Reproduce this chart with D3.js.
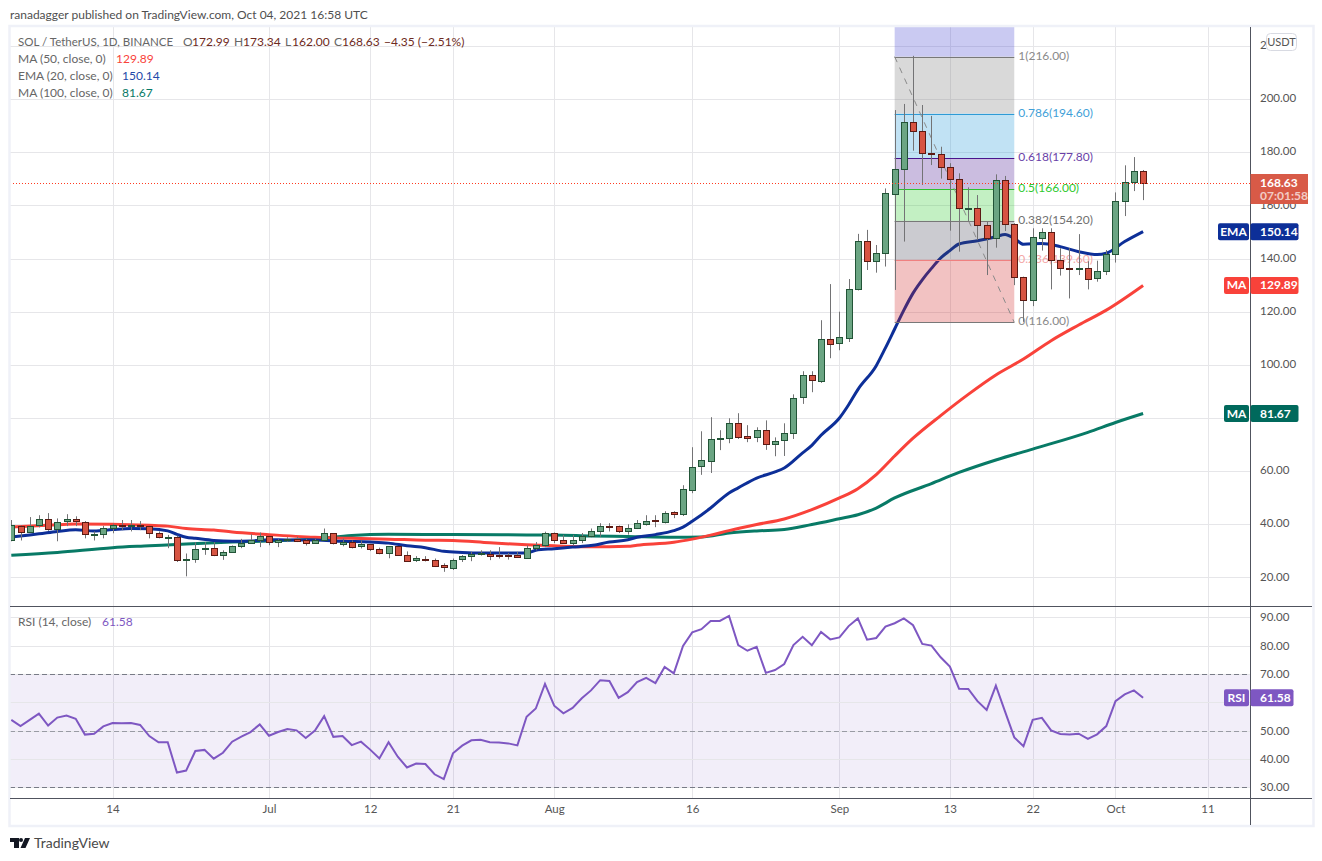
<!DOCTYPE html>
<html>
<head>
<meta charset="utf-8">
<script src="https://d3js.org/d3.v7.min.js"></script>
<style>
  html, body { margin: 0; padding: 0; background: #fff; }
  svg { display: block; }
  text { font-family: Lato, "Noto Sans", sans-serif; font-size: 12px; }
</style>
</head>
<body>
<script>
"use strict";

// Candles, one per day from Jun 3 to Oct 4 2021
var opens = [34.1,39.5,37.4,39.5,41.8,38.2,41,41.8,40.7,36,36.3,38.5,39.7,39.3,39.7,39.3,36.7,35.1,35.2,26.7,27,30.8,31.2,28.6,29.7,31.9,33,34.1,35.5,33.3,34.1,34.6,34.1,32.9,34.1,36.7,32.9,33.5,31.8,32.4,30.8,29.2,31.7,28.6,26.3,26.9,26.7,24.5,23.7,26.7,27.8,28.6,28.8,28.3,28.3,28.3,27.6,31.1,32,36.7,34.1,32.9,34,35.6,37.3,39.4,39.3,37.3,38.4,40.1,41.5,40.9,44.5,43.9,52.9,61.6,64,72.1,72.6,78.3,73.4,72.5,75.3,70.2,71.7,74.4,87.6,96,94,109.9,107.9,110.1,128.4,146.5,139,142,164.2,173.6,191.3,187.9,179.6,179.2,174.4,169.8,158.7,158.9,152.5,147.6,169.5,152.9,132.9,124.3,147.9,149.9,139.3,136.3,135.9,136.3,132.6,135.4,141.6,161.8,169,172.99];
var highs = [41.6,39.6,42.7,43.4,44.2,42.2,43.8,43,41.2,37.3,39.4,40.2,41.6,41.6,41.2,39.4,37.3,36,35.7,29,33.3,33.3,33.3,30.2,32,34.5,36.3,36.9,35.7,34.4,35.1,35.3,34.5,34.5,38.4,36.7,34.7,33.9,33.9,32.6,31.2,31.7,31.7,29.8,28,28,27.1,25.3,27.1,28.4,29.6,30.2,30.2,31.4,29.2,29.6,32.1,33.3,37.2,36.9,36,36,36.7,38.4,40.4,40.4,39.5,40,41.6,43.4,43.4,44.9,44.9,54.7,69,75,80.3,75.4,79.9,81.8,77.3,76.5,79.1,72.7,78,88.9,97.6,97.6,116.8,130.4,120,132.3,149.3,150.8,145.1,166.4,195.9,198.2,216.3,197.8,193.7,182.1,175.9,172.1,166.8,163.9,153.9,171.7,171.1,153.3,133.2,151.4,151.4,151.4,143.9,143.9,149.2,139,139.2,143.2,164.9,175.1,178.2,173.34];
var lows = [33.6,33.9,36.9,38.8,37.5,33.6,39.3,39.3,34.7,33.9,34.7,36.6,37.8,37.3,37.8,34.7,34.7,31,25.8,20.4,25.5,28.5,28,26.6,29.2,31,32.6,31.4,32.1,31.4,33.3,33.3,32,32.6,33.9,32.4,31.7,30.9,30.9,29.9,28.7,27.2,28.1,26.3,25.8,26,23.9,22.1,22.8,25.8,26.1,28.2,26.5,27.1,26.7,27.4,27.1,30.2,31.4,32.9,32.6,32,32.9,35.1,35.3,37.3,36.7,36.1,38.2,39.5,38.9,40.3,42.3,43.1,51.7,58.6,59.3,67.9,70.5,72.1,70.9,70.9,68,65.6,65.7,72.1,85.3,89.7,93.2,102.5,105.5,108.6,128,135.7,134.7,137,128.2,146.4,180.6,167.7,175.2,170.1,150.5,142.6,153.9,147,133.8,144.1,150.4,130,116.2,122.1,143,128.4,133.6,125,133.8,128.4,131.3,133.8,138.5,156,165.4,162];
var closes = [39.6,37.4,39.5,41.8,38.2,41,41.8,41,36,36.3,38.5,39.6,39.3,39.7,39.3,36.7,35.2,35.3,26.7,27,30.8,31.2,28.6,29.7,31.9,33,34.1,35.5,33.3,34.1,34.6,34,32.9,34.1,36.7,32.9,33.5,31.8,32.4,30.7,29.2,31.7,28.5,26.3,27.2,26.5,24.4,23.7,26.7,27.9,28.7,29,28.1,28,28.1,27.6,31.2,32.3,36.7,34,32.9,34.1,35.6,37.4,39.3,39.1,37.3,38.5,40.4,41.4,41,44.4,43.9,53.4,61.7,64,72.2,72.6,78.3,73.2,72.5,75.3,70.2,71.5,74.5,87.7,96,94,109.9,107.9,110.3,128.4,146.5,139,142,164.6,173.6,191.3,187.9,179.6,179.2,174.4,169.8,158.8,159,152.5,147.5,169.5,152.9,132.9,124.3,148,150.1,139.3,136.3,135.9,136.3,132.2,135.4,141.7,161.5,169,173,168.63];

// Moving averages at the listed day numbers
var emaDays = [0,2,3,5,7,9,11,13,15,17,18,19,20,22,24,26,28,30,33,36,39,41,43,45,47,49,51,53,56,57,59,61,63,65,67,68,70,72,73,74,76,78,79,81,83,84,86,87,88,90,91,92,94,95,96,97,98,99,100,101,102,103,105,107,108,109,110,112,114,116,118,119,121,123];
var emaVals = [35.2,36,36.4,37.3,37.9,37.5,38,38.4,38.3,37.5,36.2,35.1,34.7,33.9,33.6,33.7,34.2,34.1,34.1,33.6,33.3,32.9,31.9,31.2,29.8,29.4,29.2,29.2,29.2,30.2,30.8,31.4,32,33.3,34.2,35.1,36.1,37.6,38.9,41.1,46.1,51.8,53.7,57.4,59.7,61.2,66.9,69.7,73.5,80,85,90.7,99.7,106.4,113.5,120.6,127,132,136.3,140.2,143,145.5,146.7,148.2,149.1,147.6,145.4,145.7,144.5,142.6,141.5,142,146.4,150.14];
var ma50Days = [0,5,7,11,15,17,19,22,24,28,33,37,41,45,48,52,56,59,63,67,68,72,74,76,78,81,84,87,90,92,94,96,98,101,104,107,110,113,116,119,123];
var ma50Vals = [39,39.8,40.1,40,39.6,39.3,38.4,37.8,37.1,36.1,35.1,34.7,34.4,34,33.9,33,32.3,31.9,31.5,31.7,32.1,33.2,34.4,35.9,37.6,39.9,42,45.5,49.9,53.4,58.7,65.7,72.4,80.9,88.9,96.2,102.2,109.1,115,120.6,129.89];
var ma100Days = [0,5,11,15,19,24,28,33,37,41,48,56,59,63,67,72,75,78,81,84,87,90,92,94,96,100,103,107,111,117,120,123];
var ma100Vals = [28.3,29.4,31.2,31.9,32.6,33.3,33.7,34.5,35.8,36.2,36.1,36,36,35.6,35.4,35.1,35.2,36.7,37.5,38,39.9,42.1,43.6,46.1,49.9,55.3,59.5,64.2,68.3,74.6,78.3,81.67];

// RSI (14), one per day
var rsiVals = [53.8,51.6,53.8,56,51.8,54.6,55.3,54.2,48.6,48.9,51.5,52.7,52.6,52.7,52,48.1,45.9,45.9,35.2,35.9,42.8,43.2,40.1,42.2,46.1,47.9,49.5,52.2,48.2,49.5,50.6,50.1,47.4,50,55.1,47.8,48.1,44.9,46.1,43.3,40.2,45.9,40.8,37,38.4,38.2,34.6,32.9,42,44.7,46.6,46.8,45.9,45.8,45.5,44.8,54.9,57.8,66.5,58.8,56.1,58,61.4,64.2,67.8,67.5,61.6,63.6,67.1,68.6,66.8,72.5,70.2,79.9,84.7,85.8,88.7,88.7,90.5,80.2,78.2,79.6,70.4,71.4,73.5,80.2,83.1,80.1,84.8,82.2,82.9,86.9,89.6,82.1,82.7,86.7,87.9,89.6,87.2,80.6,80,75.9,72.6,64.8,64.7,60.4,57.3,65.9,56.7,47.6,44.5,53.8,54.5,50.1,48.8,48.6,48.9,47.1,48.7,51.6,60.4,62.8,64.2,61.58];

// Axis ticks. 80 on the price axis and 60 on the RSI axis sit fully behind their tags
var priceTicks = [220,200,180,160,140,120,100,80,60,40,20];
var priceLabelTicks = [220,200,180,160,140,120,100,60,40,20];
var rsiTicks = [90,80,70,60,50,40,30];
var rsiLabelTicks = [90,80,70,50,40,30];
var timeDays = [11,28,39,48,59,74,90,102,111,120,130];
var timeLabels = ["14","Jul","12","21","Aug","16","Sep","13","22","Oct","11"];

// Fibonacci retracement
var fibStartDay = 96, fibEndDay = 109;
var fibPrices = [216,194.6,177.8,166,154.2,139.6,116];
var fibLabels = ["1(216.00)","0.786(194.60)","0.618(177.80)","0.5(166.00)","0.382(154.20)","0.236(139.60)","0(116.00)"];
var fibLineColors = ["#787878","#2e9bd6","#4a148c","#2fc12f","#787878","#f08080","#787878"];
var fibTextColors = ["#8a8a8a","#3f9fd8","#6a3fa8","#2fc92f","#707070","#f4a6a6","#8a8a8a"];
var fibFills = ["#3f3fcf","#787878","#2196d6","#451390","#29c929","#454557","#d12525"];

var lastClose = 168.63, ema20 = 150.14, ma50 = 129.89, ma100 = 81.67, rsiLast = 61.58;

var upColor = "#6ba583", downColor = "#d75442", upBorder = "#225437", downBorder = "#5b1a13", wickColor = "#737375";
var emaColor = "#0d2f98", ma50Color = "#f9423a", ma100Color = "#087a66", rsiColor = "#7e57c2";
var gridColor = "#e6e6e9", frameColor = "#50535e";

var width = 1322, height = 861;
var leftX = 10, rightX = 1250, outerRight = 1313, topY = 27;
var priceBottom = 606, rsiBottom = 798, axisBottom = 826;

var x = d3.scaleLinear().domain([0, 123]).range([11.3, 1143.1]);
var y = d3.scaleLinear().domain([20, 180]).range([577.4, 152.3]);
var yRsi = d3.scaleLinear().domain([30, 90]).range([787.3, 617.3]);
function px(v) { return Math.round(v) + 0.5; }

var svg = d3.select("body").append("svg").attr("width", width).attr("height", height);

svg.append("text").attr("x", 10).attr("y", 19).attr("fill", "#4f4f4f")
    .text("ranadagger published on TradingView.com, Oct 04, 2021 16:58 UTC");

var defs = svg.append("defs");
defs.append("clipPath").attr("id", "pricePane").append("rect")
    .attr("x", leftX + 1).attr("y", topY).attr("width", rightX - leftX - 1).attr("height", priceBottom - topY);

// Grid
var grid = svg.append("g").attr("stroke", gridColor).attr("stroke-width", 1);
timeDays.forEach(function(d) {
  grid.append("line").attr("x1", px(x(d))).attr("x2", px(x(d))).attr("y1", topY).attr("y2", rsiBottom);
});
priceTicks.forEach(function(t) {
  grid.append("line").attr("x1", leftX).attr("x2", rightX).attr("y1", px(y(t))).attr("y2", px(y(t)));
});

// RSI band
svg.append("rect").attr("x", leftX).attr("width", rightX - leftX)
    .attr("y", yRsi(70)).attr("height", yRsi(30) - yRsi(70))
    .attr("fill", rsiColor).attr("fill-opacity", 0.1);
var rsiGrid = svg.append("g").attr("stroke", gridColor);
rsiTicks.forEach(function(t) {
  rsiGrid.append("line").attr("x1", leftX).attr("x2", rightX).attr("y1", px(yRsi(t))).attr("y2", px(yRsi(t)));
});
[[70, 1], [50, 0.7], [30, 1]].forEach(function(d) {
  svg.append("line").attr("x1", leftX).attr("x2", rightX).attr("y1", px(yRsi(d[0]))).attr("y2", px(yRsi(d[0])))
      .attr("stroke", "#787b86").attr("stroke-opacity", d[1]).attr("stroke-dasharray", "5,3");
});

// Fib labels go under the candles
var fibX0 = x(fibStartDay), fibX1 = x(fibEndDay);
fibPrices.forEach(function(p, i) {
  svg.append("text").attr("x", fibX1 + 4).attr("y", y(p) + 3)
      .attr("fill", fibTextColors[i]).text(fibLabels[i]);
});

var pane = svg.append("g").attr("clip-path", "url(#pricePane)");

// Moving averages stay under the fib bands
function drawMa(days, vals, color) {
  var line = d3.line().curve(d3.curveMonotoneX).x(function(d) { return x(d); }).y(function(d, i) { return y(vals[i]); });
  pane.append("path").datum(days).attr("d", line).attr("fill", "none")
      .attr("stroke", color).attr("stroke-width", 3).attr("stroke-linejoin", "round");
}
drawMa(ma100Days, ma100Vals, ma100Color);
drawMa(ma50Days, ma50Vals, ma50Color);
drawMa(emaDays, emaVals, emaColor);

// Fib bands, see-through
var fibEdges = [topY].concat(fibPrices.map(function(p) { return y(p); }));
fibFills.forEach(function(c, i) {
  pane.append("rect").attr("x", fibX0).attr("width", fibX1 - fibX0)
      .attr("y", fibEdges[i]).attr("height", fibEdges[i + 1] - fibEdges[i])
      .attr("fill", c).attr("fill-opacity", 0.28);
});
fibPrices.forEach(function(p, i) {
  pane.append("line").attr("x1", fibX0).attr("x2", fibX1).attr("y1", px(y(p))).attr("y2", px(y(p)))
      .attr("stroke", fibLineColors[i]);
});
pane.append("line").attr("x1", fibX0).attr("x2", fibX1).attr("y1", y(fibPrices[0])).attr("y2", y(fibPrices[6]))
    .attr("stroke", "#8a8a8a").attr("stroke-dasharray", "6,6");

// Candles on top
var candles = pane.selectAll("g.candle").data(opens).enter().append("g").attr("class", "candle");
candles.append("line")
    .attr("x1", function(d, i) { return px(x(i)); })
    .attr("x2", function(d, i) { return px(x(i)); })
    .attr("y1", function(d, i) { return y(highs[i]); })
    .attr("y2", function(d, i) { return y(lows[i]); })
    .attr("stroke", wickColor);
candles.append("rect")
    .attr("x", function(d, i) { return px(x(i)) - 3; })
    .attr("width", 6)
    .attr("y", function(d, i) { return Math.round(y(Math.max(d, closes[i]))) + 0.5; })
    .attr("height", function(d, i) { return Math.max(1, Math.round(Math.abs(y(d) - y(closes[i])))); })
    .attr("fill", function(d, i) { return closes[i] >= d ? upColor : downColor; })
    .attr("stroke", function(d, i) { return closes[i] >= d ? upBorder : downBorder; });

// Last price line, dots over everything in the pane
pane.append("line").attr("x1", leftX).attr("x2", rightX).attr("y1", px(y(lastClose))).attr("y2", px(y(lastClose)))
    .attr("stroke", "#ff3b20").attr("stroke-width", 1).attr("stroke-dasharray", "1,2").attr("shape-rendering", "crispEdges");

// RSI line
svg.append("path").datum(rsiVals)
    .attr("d", d3.line().x(function(d, i) { return x(i); }).y(function(d) { return yRsi(d); }))
    .attr("fill", "none").attr("stroke", rsiColor).attr("stroke-width", 2);

// Frame
svg.append("rect").attr("x", leftX - 0.5).attr("y", topY - 1).attr("width", outerRight - leftX + 1).attr("height", axisBottom - topY + 1)
    .attr("fill", "none").attr("stroke", "#eff1f8").attr("stroke-width", 2.5);
[priceBottom, rsiBottom].forEach(function(yy) {
  svg.append("line").attr("x1", leftX).attr("x2", outerRight - 1).attr("y1", yy + 0.5).attr("y2", yy + 0.5).attr("stroke", frameColor);
});
svg.append("line").attr("x1", rightX + 0.5).attr("x2", rightX + 0.5).attr("y1", topY).attr("y2", axisBottom - 1).attr("stroke", frameColor);

// Axes
function styleAxis(g) {
  g.select(".domain").remove();
  g.selectAll("line").remove();
  g.selectAll("text").attr("fill", "#555").style("font-family", 'Lato, "Noto Sans", sans-serif').style("font-size", "11.5px");
}
var fmt = d3.format(".2f");
svg.append("g").attr("transform", "translate(" + rightX + ",-1)")
    .call(d3.axisRight(y).tickValues(priceLabelTicks).tickFormat(fmt).tickSize(0).tickPadding(10))
    .call(styleAxis);
svg.append("g").attr("transform", "translate(" + rightX + ",0)")
    .call(d3.axisRight(yRsi).tickValues(rsiLabelTicks).tickFormat(fmt).tickSize(0).tickPadding(10))
    .call(styleAxis);
svg.append("g").attr("transform", "translate(0," + rsiBottom + ")")
    .call(d3.axisBottom(x).tickValues(timeDays).tickFormat(function(d, i) { return timeLabels[i]; }).tickSize(0).tickPadding(7))
    .call(styleAxis);

// USDT button
svg.append("rect").attr("x", 1266.5).attr("y", 33.5).attr("width", 30).attr("height", 17).attr("rx", 4)
    .attr("fill", "#fff").attr("stroke", "#d8dae2");
svg.append("text").attr("x", 1281.5).attr("y", 46).attr("text-anchor", "middle").attr("fill", "#555")
    .style("font-size", "11px").text("USDT");

// Price tags
function tag(name, value, color, scale, nameWidth, valueWidth) {
  var cy = scale(value);
  svg.append("rect").attr("x", rightX - nameWidth - 1).attr("y", cy - 8.5).attr("width", nameWidth).attr("height", 17).attr("rx", 2).attr("fill", color);
  svg.append("rect").attr("x", rightX + 0.5).attr("y", cy - 8.5).attr("width", valueWidth).attr("height", 17).attr("rx", 2).attr("fill", color);
  svg.append("text").attr("x", rightX - 1 - nameWidth / 2).attr("y", cy + 4).attr("text-anchor", "middle")
      .attr("fill", "#fff").attr("font-weight", 700).text(name);
  svg.append("text").attr("x", rightX + 10).attr("y", cy + 4).attr("fill", "#fff").attr("font-weight", 700).text(fmt(value));
}
tag("EMA", ema20, emaColor, y, 31, 48);
tag("MA", ma50, ma50Color, y, 25, 48);
tag("MA", ma100, "#00695c", y, 25, 48);
tag("RSI", rsiLast, rsiColor, yRsi, 25, 43);

svg.append("rect").attr("x", rightX + 0.5).attr("y", 174).attr("width", 57.5).attr("height", 30).attr("fill", "#d85a47");
svg.append("text").attr("x", rightX + 10).attr("y", 187).attr("fill", "#fff").attr("font-weight", 700).text(fmt(lastClose));
svg.append("text").attr("x", rightX + 10).attr("y", 200).attr("fill", "#fff").attr("fill-opacity", 0.7).attr("font-weight", 700).text("07:01:58");

// Legend
var gray = "#666", ohlc = "#6e2a22";
[["SOL / TetherUS, 1D, BINANCE", 18, gray], ["O", 183, gray], ["172.99", 192, ohlc], ["H", 234, gray], ["173.34", 243, ohlc],
 ["L", 285, gray], ["162.00", 292, ohlc], ["C", 334, gray], ["168.63", 342, ohlc], ["\u22124.35 (\u22122.51%)", 384, ohlc]].forEach(function(d, i) {
  svg.append("text").attr("x", d[1]).attr("y", 46).attr("fill", d[2]).style("font-size", i == 0 ? "11.5px" : "12px").text(d[0]);
});
[["MA (50, close, 0)", "129.89", 116, 63, ma50Color], ["EMA (20, close, 0)", "150.14", 122, 80, "#2348a8"], ["MA (100, close, 0)", "81.67", 122, 97, ma100Color]].forEach(function(d) {
  svg.append("text").attr("x", 18).attr("y", d[3]).attr("fill", gray).text(d[0]);
  svg.append("text").attr("x", d[2]).attr("y", d[3]).attr("fill", d[4]).text(d[1]);
});
svg.append("text").attr("x", 18).attr("y", 626).attr("fill", gray).text("RSI (14, close)");
svg.append("text").attr("x", 102).attr("y", 626).attr("fill", rsiColor).text(fmt(rsiLast));

// Logo
svg.append("path").attr("fill", "#131722")
    .attr("d", "M10 838H19V848H14V842H10Z M25 838H30L25.5 848H20.5Z");
svg.append("circle").attr("cx", 21).attr("cy", 840).attr("r", 2).attr("fill", "#131722");
svg.append("text").attr("x", 34).attr("y", 848).attr("fill", "#4a4a4a").style("font-size", "14px").text("TradingView");
</script>
</body>
</html>
